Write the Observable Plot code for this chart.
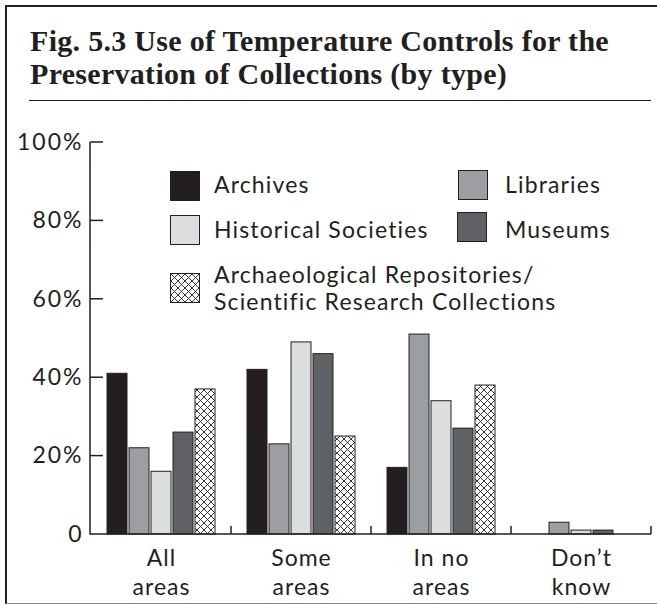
<!DOCTYPE html>
<html>
<head>
<meta charset="utf-8">
<script src="https://cdn.jsdelivr.net/npm/d3@7"></script>
<script src="https://cdn.jsdelivr.net/npm/@observablehq/plot@0.6"></script>
<style>
  body { margin: 0; background: #fff; }
  #fig { position: relative; width: 657px; height: 605px; overflow: hidden; font-family: Lato, sans-serif; color: #231f20; }
  #border { position: absolute; left: 5px; top: 5px; right: -4px; bottom: 1px; border-top: 2px solid #231f20; border-left: 2.5px solid #231f20; border-bottom: 1.5px solid #8a8a8a; }
  #title { position: absolute; left: 30px; top: 23.5px; font: bold 30px/33px "Liberation Serif", serif; letter-spacing: 0.3px; white-space: nowrap; color: #231f20; }
  #rule { position: absolute; left: 29px; top: 99.5px; width: 622px; height: 0; border-top: 1.5px solid #231f20; }
  #chart { position: absolute; left: 0; top: 110px; }
  .leg { position: absolute; font-size: 23px; line-height: 27px; letter-spacing: 1.15px; white-space: nowrap; }
  .sw { position: absolute; width: 28px; height: 28px; border: 1.5px solid #231f20; }
  .sw svg { display: block; }
  #chart svg g[aria-label="y-axis tick label"] text, #chart svg g[aria-label="y-axis"] text { letter-spacing: 2px; }
  #chart svg g[aria-label="text"] text { letter-spacing: 1px; }
</style>
</head>
<body>
<svg width="0" height="0" style="position:absolute">
  <defs>
    <pattern id="hatch" patternUnits="userSpaceOnUse" width="7" height="7">
      <rect width="7" height="7" fill="#fff"></rect>
      <path d="M0,0L7,7M7,0L0,7" stroke="#231f20" stroke-width="0.9" fill="none"></path>
    </pattern>
  </defs>
</svg>
<div id="fig">
  <div id="border"></div>
  <div id="title">Fig. 5.3 Use of Temperature Controls for the<br>Preservation of Collections (by type)</div>
  <div id="rule"></div>
  <div id="chart"></div>
  <div id="legend"></div>
</div>
<script>
// ---- data ----
const categories = ["All areas", "Some areas", "In no areas", "Don’t know"];
const categoryLines = ["All\nareas", "Some\nareas", "In no\nareas", "Don’t\nknow"];
const series = ["Archives", "Libraries", "Historical Societies", "Museums", "Archaeological Repositories/ Scientific Research Collections"];
const legendLabels = ["Archives", "Libraries", "Historical Societies", "Museums", "Archaeological Repositories/<br>Scientific Research Collections"];
const archives       = [41, 42, 17, 0];
const libraries      = [22, 23, 51, 3];
const historical     = [16, 49, 34, 1];
const museums        = [26, 46, 27, 1];
const archaeological = [37, 25, 38, 0];
const yTicks = [0, 20, 40, 60, 80, 100];
const fills = ["#231f20", "#9d9ea1", "#dcdddf", "#606164", "url(#hatch)"];

const seriesValues = [archives, libraries, historical, museums, archaeological];
const data = categories.flatMap((c, i) =>
  series.map((s, j) => ({category: c, series: s, value: seriesValues[j][i]}))
).filter(d => d.value > 0);

const chart = Plot.plot({
  width: 657,
  height: 495,
  marginLeft: 90,
  marginRight: 5,
  marginTop: 32,
  marginBottom: 71,
  style: {fontFamily: "Lato, sans-serif", fontSize: "23px", color: "#231f20", background: "transparent", overflow: "visible"},
  fx: {domain: categories, padding: 0, axis: null, label: null},
  x: {domain: series, paddingInner: 0.07, paddingOuter: 0.68, axis: null, label: null},
  y: {domain: [0, 100], ticks: yTicks, tickSize: 0, tickPadding: 8, tickFormat: d => d === 0 ? "0" : d + "%", label: null},
  color: {domain: series, range: fills},
  marks: [
    Plot.barY(data, {fx: "category", x: "series", y: "value", fill: "series", stroke: "#231f20", strokeWidth: 1}),
    Plot.text(categories, {fx: d => d, text: (d, i) => categoryLines[i], frameAnchor: "bottom", lineAnchor: "top", dy: 11, lineHeight: 1.26, fill: "#231f20"})
  ]
});

// axis lines drawn from Plot's own scales
const ys = chart.scale("y");
const fxs = chart.scale("fx");
const svg = d3.select(chart.tagName.toLowerCase() === "svg" ? chart : chart.querySelector("svg"));
const y0 = ys.apply(0), yTop = ys.apply(100);
const xLeft = 90;
const fxBand = fxs.bandwidth;
const xRight = fxs.apply(categories[categories.length - 1]) + fxBand;
const g = svg.append("g").attr("stroke", "#231f20").attr("fill", "none").attr("stroke-width", 1.5);
g.append("path").attr("d", `M${xLeft},${yTop}V${y0}H${xRight}`);
yTicks.filter(t => t > 0).forEach(t => {
  g.append("path").attr("d", `M${xLeft},${ys.apply(t)}h13`);
});
categories.forEach(c => {
  const xb = fxs.apply(c) + fxBand;
  g.append("path").attr("d", `M${xb},${y0}v-8`);
});

document.getElementById("chart").appendChild(chart);

// legend (HTML overlay)
const legendPos = [
  {sx: 170, sy: 171, tx: 214, ty: 171},
  {sx: 458, sy: 170, tx: 505, ty: 171},
  {sx: 170, sy: 215, tx: 214, ty: 216},
  {sx: 457, sy: 212, tx: 505, ty: 216},
  {sx: 170, sy: 273, tx: 214, ty: 261}
];
const legend = document.getElementById("legend");
series.forEach((s, i) => {
  const p = legendPos[i];
  const sw = document.createElement("div");
  sw.className = "sw";
  sw.style.left = p.sx + "px";
  sw.style.top = p.sy + "px";
  sw.innerHTML = `<svg width="28" height="28"><rect width="28" height="28" fill="${fills[i]}"></rect></svg>`;
  legend.appendChild(sw);
  const t = document.createElement("div");
  t.className = "leg";
  t.style.left = p.tx + "px";
  t.style.top = p.ty + "px";
  t.innerHTML = legendLabels[i];
  legend.appendChild(t);
});
</script>
</body>
</html>
